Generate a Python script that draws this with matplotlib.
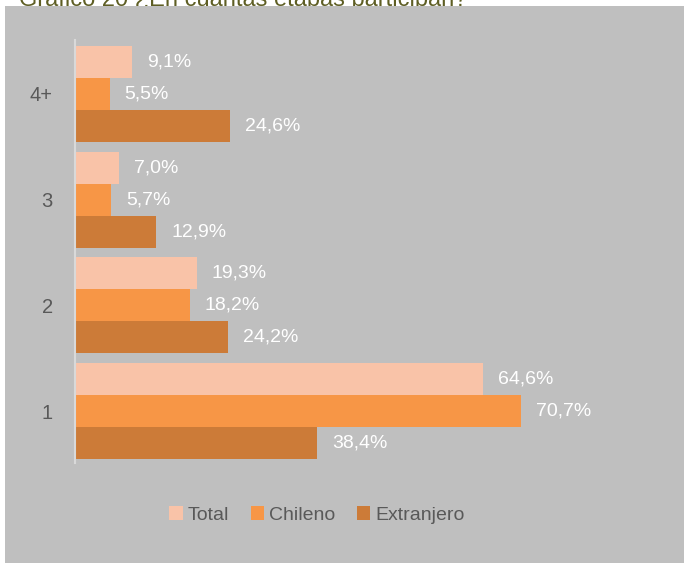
import matplotlib.pyplot as plt
import numpy as np
from matplotlib.patches import Rectangle, Patch

# data
categorias = ["1", "2", "3", "4+"]
total = [64.6, 19.3, 7.0, 9.1]
chileno = [70.7, 18.2, 5.7, 5.5]
extranjero = [38.4, 24.2, 12.9, 24.6]
series = ["Total", "Chileno", "Extranjero"]
colores = ["#F9C3A8", "#F79646", "#CC7B38"]

plt.rcParams['font.family'] = ["Liberation Sans", "DejaVu Sans"]

W, H = 684, 563
fig = plt.figure(figsize=(W / 100, H / 100), dpi=100)
fig.patch.set_facecolor("white")

# title partly hidden behind the gray panel (as in the source)
fig.text(19 / W, 1 - 6 / H, "Gráfico 20 ¿En cuántas etapas participan?",
         color="#5E5E24", fontsize=17, ha="left", va="baseline", zorder=0)
fig.patches.append(Rectangle((5 / W, 0), 1 - 5 / W, 1 - 6 / H,
                             transform=fig.transFigure, facecolor="#BFBFBF",
                             edgecolor="none", zorder=1))

ax = fig.add_axes([75 / W, (H - 463) / H, 590 / W, 423 / H])
ax.set_zorder(2)
ax.patch.set_alpha(0)

px_pct = 6.31
ax.set_xlim(0, 590 / px_pct)
ax.set_ylim(-0.49, 3.51)

y = np.arange(len(categorias))
h = 0.303
valores = [total, chileno, extranjero]
offsets = [h, 0, -h]
for vals, off, c, nom in zip(valores, offsets, colores, series):
    ax.barh(y + off, vals, height=h, color=c, label=nom)
    for yi, v in zip(y, vals):
        ax.text(v + 15 / px_pct, yi + off, f"{v:.1f}%".replace(".", ","),
                color="white", fontsize=14, va="center", ha="left")

ax.set_yticks(y)
ax.set_yticklabels(categorias)
ax.tick_params(axis="y", length=0, pad=16, labelsize=14.5, labelcolor="#595959")
ax.set_xticks([])
for s in ["top", "right", "bottom"]:
    ax.spines[s].set_visible(False)
ax.spines["left"].set_color("#D9D9D9")
ax.spines["left"].set_linewidth(1.5)

handles = [Patch(facecolor=c, label=n) for c, n in zip(colores, series)]
leg = fig.legend(handles=handles, loc="center", bbox_to_anchor=(317 / W, 1 - 515 / H),
                 ncol=3, frameon=False, fontsize=14, handlelength=0.7,
                 handleheight=0.7, handletextpad=0.25, columnspacing=1.1)
for t in leg.get_texts():
    t.set_color("#595959")

fig.savefig("out.png", dpi=100)
